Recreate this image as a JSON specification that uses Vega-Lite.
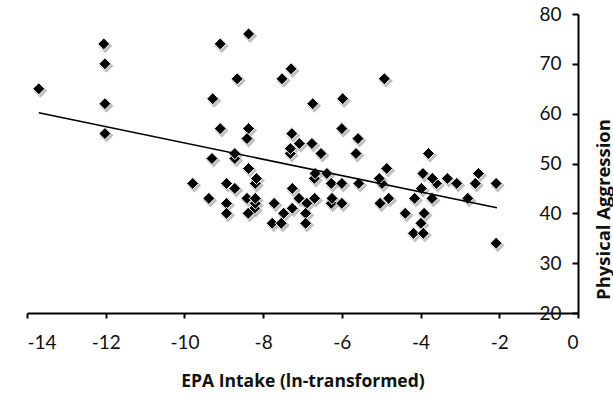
{
  "$schema": "https://vega.github.io/schema/vega-lite/v6.json",
  "autosize": {"type": "none"},
  "padding": {"left": 27, "top": 14, "right": 35, "bottom": 81},
  "width": 551,
  "height": 299,
  "background": "white",
  "config": {
    "view": {"stroke": null},
    "font": "Lato",
    "axis": {"grid": false}
  },
  "datasets": {
    "points": [
      {"epa": -13.7, "pa": 65}, {"epa": -12.05, "pa": 74}, {"epa": -12.02, "pa": 70}, {"epa": -12.02, "pa": 62}, {"epa": -12.02, "pa": 56},
      {"epa": -9.28, "pa": 63}, {"epa": -9.3, "pa": 51}, {"epa": -9.79, "pa": 46}, {"epa": -9.38, "pa": 43}, {"epa": -9.09, "pa": 74},
      {"epa": -8.37, "pa": 76}, {"epa": -8.66, "pa": 67}, {"epa": -7.29, "pa": 69}, {"epa": -7.52, "pa": 67}, {"epa": -4.92, "pa": 67},
      {"epa": -6.74, "pa": 62}, {"epa": -5.98, "pa": 63}, {"epa": -9.09, "pa": 57}, {"epa": -8.37, "pa": 57}, {"epa": -8.41, "pa": 55},
      {"epa": -6.0, "pa": 57}, {"epa": -5.59, "pa": 55}, {"epa": -7.27, "pa": 56}, {"epa": -7.08, "pa": 54}, {"epa": -6.76, "pa": 54},
      {"epa": -7.31, "pa": 52}, {"epa": -7.31, "pa": 53}, {"epa": -6.53, "pa": 52}, {"epa": -5.64, "pa": 52}, {"epa": -8.72, "pa": 51},
      {"epa": -8.72, "pa": 52}, {"epa": -3.8, "pa": 52}, {"epa": -8.37, "pa": 49}, {"epa": -8.2, "pa": 46}, {"epa": -8.17, "pa": 47},
      {"epa": -8.93, "pa": 46}, {"epa": -8.72, "pa": 45}, {"epa": -8.93, "pa": 42}, {"epa": -8.93, "pa": 40}, {"epa": -8.41, "pa": 43},
      {"epa": -8.22, "pa": 41}, {"epa": -8.2, "pa": 42}, {"epa": -8.2, "pa": 43}, {"epa": -8.38, "pa": 40}, {"epa": -7.72, "pa": 42},
      {"epa": -7.26, "pa": 45}, {"epa": -7.09, "pa": 43}, {"epa": -7.26, "pa": 41}, {"epa": -7.48, "pa": 40}, {"epa": -7.77, "pa": 38},
      {"epa": -7.54, "pa": 38}, {"epa": -6.89, "pa": 42}, {"epa": -6.92, "pa": 40}, {"epa": -6.92, "pa": 38}, {"epa": -6.69, "pa": 43},
      {"epa": -6.7, "pa": 47}, {"epa": -6.68, "pa": 48}, {"epa": -6.38, "pa": 48}, {"epa": -6.27, "pa": 46}, {"epa": -6.0, "pa": 46},
      {"epa": -6.27, "pa": 42}, {"epa": -6.25, "pa": 43}, {"epa": -6.0, "pa": 42}, {"epa": -5.57, "pa": 46}, {"epa": -4.86, "pa": 49},
      {"epa": -4.98, "pa": 46}, {"epa": -5.05, "pa": 47}, {"epa": -4.81, "pa": 43}, {"epa": -5.03, "pa": 42}, {"epa": -3.94, "pa": 48},
      {"epa": -3.6, "pa": 46}, {"epa": -3.7, "pa": 47}, {"epa": -3.98, "pa": 45}, {"epa": -4.15, "pa": 43}, {"epa": -3.71, "pa": 43},
      {"epa": -4.39, "pa": 40}, {"epa": -3.91, "pa": 40}, {"epa": -3.99, "pa": 38}, {"epa": -4.18, "pa": 36}, {"epa": -3.93, "pa": 36},
      {"epa": -3.32, "pa": 47}, {"epa": -3.08, "pa": 46}, {"epa": -2.53, "pa": 48}, {"epa": -2.61, "pa": 46}, {"epa": -2.8, "pa": 43},
      {"epa": -2.08, "pa": 46}, {"epa": -2.08, "pa": 34}
    ],
    "trend": [
      {"epa": -13.7, "pa": 60.2},
      {"epa": -2.06, "pa": 41.1}
    ]
  },
  "layer": [
    {
      "data": {"name": "points"},
      "mark": {"type": "point", "shape": "diamond", "filled": true, "color": "#8a8a8a", "opacity": 0.55, "size": 195, "xOffset": 1.5, "yOffset": 2},
      "encoding": {
        "x": {"field": "epa", "type": "quantitative", "scale": {"domain": [-14, 0], "nice": false, "zero": false},
          "axis": {
            "values": [-14, -12, -10, -8, -6, -4, -2, 0],
            "labelExpr": "'' + datum.value",
            "title": "EPA Intake (ln-transformed)",
            "titleFont": "Open Sans", "titleFontSize": 17.5, "titleFontWeight": "bold", "titleColor": "#111",
            "titleY": 68, "titleBaseline": "middle",
            "labelFont": "Lato", "labelFontSize": 19, "labelColor": "#111", "labelPadding": 15,
            "domainColor": "#000", "domainWidth": 2, "tickColor": "#000", "tickWidth": 2, "tickSize": 5
          }
        },
        "y": {"field": "pa", "type": "quantitative", "scale": {"domain": [20, 80], "nice": false, "zero": false},
          "axis": {
            "orient": "left", "offset": -551,
            "values": [20, 30, 40, 50, 60, 70, 80],
            "title": "Physical Aggression",
            "titleFont": "Open Sans", "titleFontSize": 18.5, "titleFontWeight": "bold", "titleColor": "#111",
            "titleX": 25, "titleY": 195, "titleAngle": 270, "titleAlign": "center", "titleBaseline": "middle",
            "labelFont": "Lato", "labelFontSize": 19, "labelColor": "#111", "labelPadding": 11,
            "domainColor": "#000", "domainWidth": 2, "tickColor": "#000", "tickWidth": 2, "tickSize": 6
          }
        }
      }
    },
    {
      "data": {"name": "points"},
      "mark": {"type": "point", "shape": "diamond", "filled": true, "color": "#000", "opacity": 1, "size": 145, "stroke": "white", "strokeWidth": 1},
      "encoding": {
        "x": {"field": "epa", "type": "quantitative"},
        "y": {"field": "pa", "type": "quantitative"}
      }
    },
    {
      "data": {"name": "trend"},
      "mark": {"type": "line", "color": "#000", "strokeWidth": 1.5},
      "encoding": {
        "x": {"field": "epa", "type": "quantitative"},
        "y": {"field": "pa", "type": "quantitative"}
      }
    }
  ]
}
